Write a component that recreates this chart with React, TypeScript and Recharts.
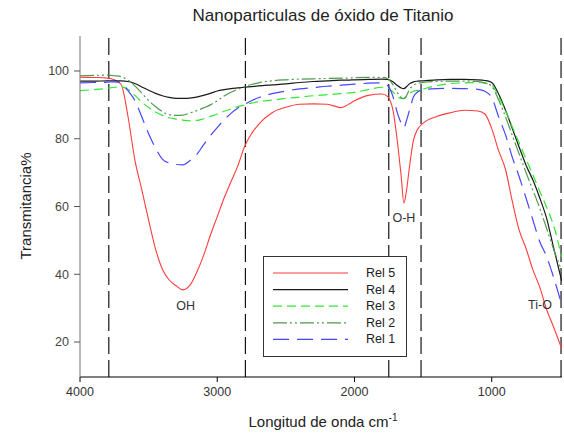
import React from 'react';
import { LineChart, Line, XAxis, YAxis, ReferenceLine, ReferenceDot, Legend } from 'recharts';

const wavenumbers = [4000, 3900, 3800, 3750, 3700, 3650, 3600, 3550, 3500, 3450, 3400, 3350, 3300, 3250, 3200, 3150, 3100, 3050, 3000, 2950, 2900, 2850, 2800, 2750, 2700, 2600, 2500, 2400, 2300, 2200, 2100, 2050, 2000, 1900, 1800, 1760, 1720, 1690, 1660, 1640, 1620, 1600, 1570, 1540, 1500, 1400, 1300, 1200, 1100, 1050, 1000, 950, 900, 850, 800, 750, 700, 650, 600, 550, 490];

const rel5 = [98.2, 98.1, 97.9, 97.4, 96.0, 86.5, 73.7, 65, 56, 47.5, 41.5, 38.3, 36.6, 35.4, 36.7, 40.5, 45.5, 51.5, 57, 62.5, 67.3, 72, 77.8, 81.5, 84.2, 87.7, 89.3, 90.2, 90.3, 90.2, 89.2, 90, 91.2, 92.8, 93.2, 92.5, 88.5, 80, 69, 61, 65, 71.5, 79.6, 82.8, 84.6, 86.6, 87.7, 88.4, 88.2, 87.3, 83, 76.5, 71, 61.5, 53, 47.6, 41.3, 36.2, 29.6, 24.5, 18];

const rel4 = [97.0, 97.0, 97.1, 97.1, 97.1, 96.9, 96.3, 95.3, 94.3, 93.4, 92.7, 92.2, 91.9, 91.9, 92.0, 92.3, 92.8, 93.4, 94.1, 94.5, 94.8, 95.0, 95.2, 95.4, 95.6, 95.9, 96.2, 96.6, 96.9, 97.1, 97.3, 97.3, 97.4, 97.5, 97.6, 97.5, 96.8, 95.8, 95.0, 94.8, 95.4, 96.2, 96.8, 97.0, 97.1, 97.4, 97.5, 97.5, 97.4, 97.2, 96.6, 93.2, 88.5, 83, 77.5, 72.2, 67.8, 62.5, 56.5, 48, 38];

const rel3 = [94.2, 94.5, 94.9, 95.2, 95.3, 94.5, 92.8, 90.8, 89.2, 87.9, 86.9, 86.2, 85.8, 85.5, 85.3, 85.4, 85.9, 86.6, 87.3, 88.1, 88.8, 89.5, 90.0, 90.5, 90.9, 91.4, 91.9, 92.3, 92.7, 93.0, 93.3, 93.5, 93.7, 94.5, 95.2, 95.0, 93.8, 92.6, 91.9, 91.9, 92.5, 93.3, 94.0, 94.3, 94.7, 95.7, 96.3, 96.5, 96.6, 96.4, 95.8, 92.5, 88.2, 83.5, 78.8, 74, 69.3, 64.5, 59.8, 54.5, 45];

const rel2 = [98.6, 98.7, 98.8, 98.6, 98.3, 97.3, 95.6, 93.5, 91.3, 89.5, 88.0, 87.1, 86.9, 87.0, 87.6, 88.3, 89.1, 90.0, 91.2, 92.6, 93.7, 94.6, 95.4, 96.0, 96.5, 97.1, 97.4, 97.6, 97.7, 97.8, 97.9, 97.9, 98.0, 98.1, 98.1, 97.8, 96, 93.8, 92.2, 91.8, 92.8, 94.5, 95.8, 96.3, 96.6, 96.9, 97.0, 97.0, 96.9, 96.5, 95.5, 91.5, 86.5, 81, 75.5, 70, 64.8, 59.5, 53.5, 47.5, 41];

const rel1 = [96.5, 96.6, 96.7, 96.8, 96.6, 94.2, 91.3, 86.5, 81.5, 77.3, 74.0, 72.8, 72.4, 72.3, 73.5, 75.3, 78.2, 80.9, 83.3, 85.6, 87.5, 89.1, 90.2, 91.2, 92.1, 93.3, 94.1, 94.7, 95.1, 95.5, 95.8, 96.0, 96.1, 96.4, 96.5, 95.8, 92.5, 88, 84.6, 83.3, 85.5, 88.3, 92.4, 93.8, 94.4, 94.8, 94.9, 94.8, 94.6, 94.0, 92.2, 86.5, 81.2, 74.5, 68.8, 62.5, 56, 49.6, 45.2, 39.2, 31];

const xTicks = [4000, 3000, 2000, 1000];
const yTicks = [20, 40, 60, 80, 100];
const markerLines = [3790, 2795, 1750, 1515, 495];
const seriesNames = ['Rel 5', 'Rel 4', 'Rel 3', 'Rel 2', 'Rel 1'];
const annotationTexts = ['OH', 'O-H', 'Ti-O'];
const annotationX = [3230, 1640, 648];
const annotationY = [30.9, 56.6, 31.2];

const FONT = '"Liberation Sans", Arial, Helvetica, sans-serif';

const seriesStyle = [
  { key: 'rel5', color: '#ff3c3c', dash: undefined, width: 1.1 },
  { key: 'rel4', color: '#1a1a1a', dash: undefined, width: 1.2 },
  { key: 'rel3', color: '#33e633', dash: '9 5', width: 1.2 },
  { key: 'rel2', color: '#4f9a4f', dash: '14 3 2 3 2 3', width: 1.2 },
  { key: 'rel1', color: '#4646ff', dash: '16 8', width: 1.2 },
];

const data = wavenumbers.map((w, i) => ({
  w,
  rel5: rel5[i],
  rel4: rel4[i],
  rel3: rel3[i],
  rel2: rel2[i],
  rel1: rel1[i],
}));

const renderLegend = () => (
  <svg width={145} height={102} style={{ display: 'block' }}>
    <rect x={0.5} y={0.5} width={143} height={100} fill="#fff" stroke="#333" strokeWidth={1} />
    {seriesStyle.map((s, i) => {
      const y = 17 + i * 16.6;
      return (
        <g key={s.key}>
          <line x1={10} x2={85} y1={y} y2={y} stroke={s.color} strokeWidth={s.width} strokeDasharray={s.dash} />
          <text x={103} y={y} dominantBaseline="central" fontSize={12.5} fill="#222" fontFamily={FONT}>
            {seriesNames[i]}
          </text>
        </g>
      );
    })}
  </svg>
);

export default function App() {
  return (
    <div style={{ position: 'absolute', left: 0, top: 0, width: 564, height: 433, background: '#fff', fontFamily: FONT }}>
      <div style={{ position: 'absolute', left: 0, width: 646, top: 6, textAlign: 'center', fontSize: 17, color: '#222' }}>
        Nanoparticulas de óxido de Titanio
      </div>
      <div style={{ position: 'absolute', left: 25, top: 206, width: 0, height: 0 }}>
        <div style={{ position: 'absolute', transform: 'translate(-50%, -50%) rotate(-90deg)', whiteSpace: 'nowrap', fontSize: 15, color: '#222' }}>
          Transmitancia%
        </div>
      </div>
      <div style={{ position: 'absolute', left: 0, width: 646, top: 412, textAlign: 'center', fontSize: 15, color: '#222' }}>
        Longitud de onda cm<sup style={{ fontSize: 10 }}>-1</sup>
      </div>
      <LineChart width={564} height={433} data={data} margin={{ top: 36, right: 2, bottom: 26, left: 0 }} style={{ position: 'absolute', left: 0, top: 0 }}>
        <XAxis
          xAxisId="b"
          dataKey="w"
          type="number"
          domain={[488, 4000]}
          reversed
          allowDataOverflow
          ticks={xTicks}
          height={30}
          tickSize={5}
          tickMargin={5}
          axisLine={{ stroke: '#000' }}
          tickLine={{ stroke: '#000' }}
          tick={{ fill: '#333', fontSize: 12.5, fontFamily: FONT }}
        />
        <XAxis
          xAxisId="t"
          orientation="top"
          dataKey="w"
          type="number"
          domain={[488, 4000]}
          reversed
          allowDataOverflow
          ticks={markerLines}
          height={0}
          tickSize={4}
          tick={false}
          axisLine={{ stroke: '#333' }}
          tickLine={{ stroke: '#000' }}
        />
        <YAxis
          yAxisId="l"
          type="number"
          domain={[9.67, 110.33]}
          allowDataOverflow
          ticks={yTicks}
          width={80}
          tickSize={6}
          tickMargin={5}
          axisLine={{ stroke: '#777' }}
          tickLine={{ stroke: '#555' }}
          tick={{ fill: '#444', fontSize: 12.5, fontFamily: FONT }}
        />
        {markerLines.map((m) => (
          <ReferenceLine key={m} x={m} xAxisId="b" yAxisId="l" stroke="#000" strokeWidth={1.1} strokeDasharray="17 6" />
        ))}
        {seriesStyle.map((s, i) => (
          <Line
            key={s.key}
            xAxisId="b"
            yAxisId="l"
            type="monotone"
            dataKey={s.key}
            name={seriesNames[i]}
            stroke={s.color}
            strokeWidth={s.width}
            strokeDasharray={s.dash}
            dot={false}
            activeDot={false}
            isAnimationActive={false}
          />
        ))}
        {annotationTexts.map((t, i) => (
          <ReferenceDot
            key={t}
            xAxisId="b"
            yAxisId="l"
            x={annotationX[i]}
            y={annotationY[i]}
            r={0}
            fill="none"
            stroke="none"
            ifOverflow="visible"
            label={{ value: t, position: 'center', fill: '#333', fontSize: 12.5, fontFamily: FONT }}
          />
        ))}
        <Legend
          layout="vertical"
          align="center"
          verticalAlign="middle"
          content={renderLegend}
          wrapperStyle={{ position: 'absolute', left: 263, top: 256, width: 145, height: 102, margin: 0 }}
        />
      </LineChart>
    </div>
  );
}
